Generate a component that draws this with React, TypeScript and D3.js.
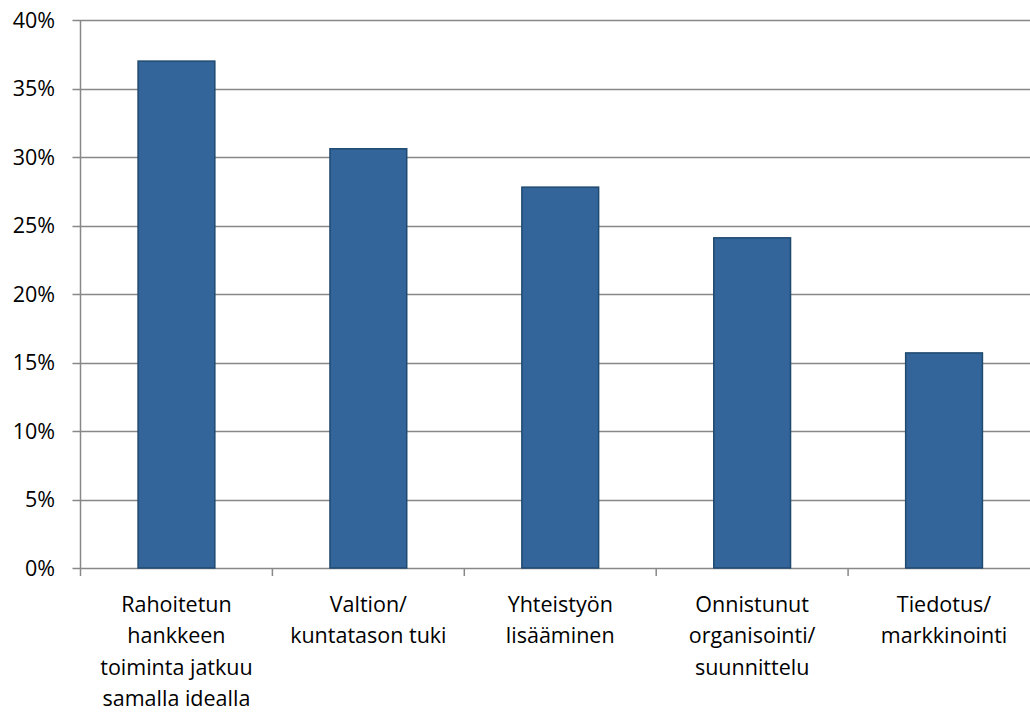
import React from "react";
import * as d3 from "d3";

const categories: string[][] = [
  ["Rahoitetun", "hankkeen", "toiminta jatkuu", "samalla idealla"],
  ["Valtion/", "kuntatason tuki"],
  ["Yhteistyön", "lisääminen"],
  ["Onnistunut", "organisointi/", "suunnittelu"],
  ["Tiedotus/", "markkinointi"],
];
const values: number[] = [0.37, 0.306, 0.278, 0.241, 0.157];
const yTicks: number[] = [0, 0.05, 0.1, 0.15, 0.2, 0.25, 0.3, 0.35, 0.4];

export default function App() {
  const W = 1030, H = 713;
  const left = 80.5, right = 1040, top = 20, bottom = 568;
  const x = d3.scaleBand<number>().domain(d3.range(values.length)).range([left, right]).paddingInner(0.6).paddingOuter(0.3);
  const band = d3.scaleBand<number>().domain(d3.range(values.length)).range([left, right]);
  const y = d3.scaleLinear().domain([0, 0.4]).range([bottom, top]);
  const font = "'Open Sans', sans-serif";
  return (
    <svg width={W} height={H} style={{ position: "absolute", left: 0, top: 0, background: "#fff" }}>
      {yTicks.map((t) => (
        <g key={t}>
          <line x1={left - 8} x2={W} y1={Math.round(y(t)) + 0.5} y2={Math.round(y(t)) + 0.5} stroke="#888" strokeWidth={1.5} />
          <text x={55} y={y(t)} dy="0.36em" textAnchor="end" fontFamily={font} fontSize={21.5} fill="#000">
            {d3.format(".0%")(t)}
          </text>
        </g>
      ))}
      <line x1={left} x2={left} y1={top} y2={bottom} stroke="#888" strokeWidth={1.5} />
      {d3.range(values.length + 1).map((i) => {
        const xx = i < values.length ? band(i)! : right;
        return <line key={i} x1={xx} x2={xx} y1={bottom} y2={bottom + 8} stroke="#888" strokeWidth={1.5} />;
      })}
      {values.map((v, i) => (
        <rect key={i} x={x(i)!} y={y(v)} width={x.bandwidth()} height={bottom - y(v)} fill="#34659A" stroke="#1F4A70" strokeWidth={1.5} />
      ))}
      {categories.map((lines, i) => (
        <text key={i} textAnchor="middle" fontFamily={font} fontSize={21.5} fill="#000">
          {lines.map((l, j) => (
            <tspan key={j} x={band(i)! + band.bandwidth() / 2} y={612 + j * 31.3}>{l}</tspan>
          ))}
        </text>
      ))}
    </svg>
  );
}
